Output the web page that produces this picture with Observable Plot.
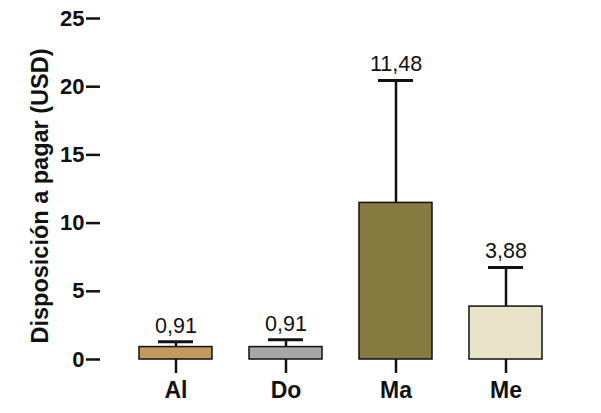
<!DOCTYPE html>
<html><head><meta charset="utf-8">
<script src="https://cdn.jsdelivr.net/npm/d3@7"></script>
<script src="https://cdn.jsdelivr.net/npm/@observablehq/plot@0.6"></script>
<style>body{margin:0;background:#fff}</style>
</head><body><div id="chart"></div>
<script>
const categories = ["Al", "Do", "Ma", "Me"];
const means = [0.91, 0.91, 11.48, 3.88];
const upper = [1.3, 1.45, 20.45, 6.75];
const valueLabels = ["0,91", "0,91", "11,48", "3,88"];
const colors = ["#c49a5c", "#a7a7a9", "#857a40", "#e9e4c9"];
const yTicks = [0, 5, 10, 15, 20, 25];
const yLabel = "Disposición a pagar (USD)";

const data = categories.map((c, i) => ({cat: c, mean: means[i], up: upper[i], label: valueLabels[i], color: colors[i]}));
const font = "Liberation Sans, Arial, sans-serif";

const chart = Plot.plot({
  width: 601, height: 413,
  marginLeft: 100, marginRight: 21, marginTop: 18, marginBottom: 54,
  style: {fontFamily: font, background: "white"},
  x: {domain: categories, range: [100, 580], padding: 0.34, axis: null},
  y: {domain: [0, 25], axis: null},
  marks: [
    Plot.barY(data, {x: "cat", y: "mean", fill: "color", stroke: "#111", strokeWidth: 1.5}),
    Plot.ruleX(data, {x: "cat", y1: "mean", y2: "up", stroke: "#111", strokeWidth: 2.5}),
    Plot.tickY(data, {x: "cat", y: "up", stroke: "#111", strokeWidth: 3, insetLeft: 19, insetRight: 19}),
    Plot.text(data, {x: "cat", y: "up", text: "label", dy: -16, fontSize: 21.5, fill: "#111"}),
    Plot.ruleY([0], {x1: 0, stroke: "#111", strokeWidth: 2.5}),
    Plot.ruleX([0], {stroke: "#111", strokeWidth: 2.5}),
    Plot.axisY(yTicks, {tickSize: 14, tickPadding: 2, fontSize: 22, fontWeight: "bold", stroke: "#111", strokeWidth: 2.5, fill: "#111", label: null}),
    Plot.axisX({tickSize: 14, tickPadding: 8, fontSize: 23, fontWeight: "bold", stroke: "#111", strokeWidth: 2.5, fill: "#111", label: null}),
    Plot.text([yLabel], {frameAnchor: "left", textAnchor: "middle", dx: -60, dy: 7, rotate: -90, fontSize: 23.5, fontWeight: "bold", fill: "#111"})
  ]
});
document.getElementById("chart").appendChild(chart);
</script>
</body></html>
